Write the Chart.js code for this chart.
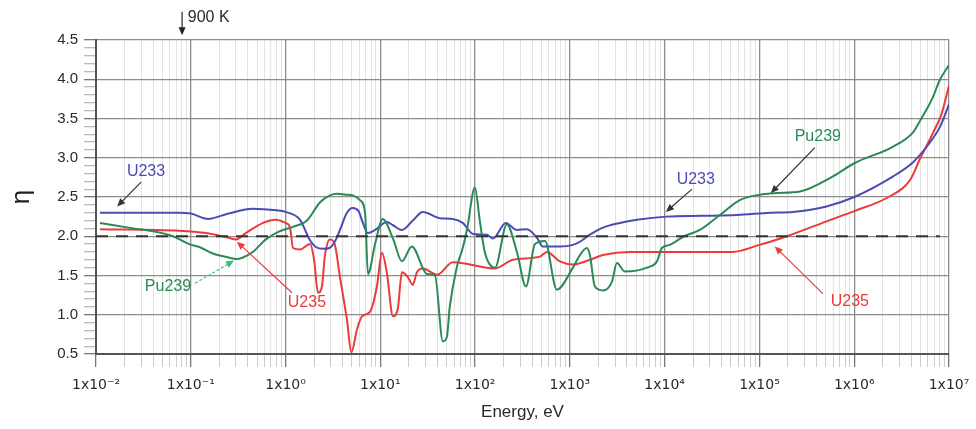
<!DOCTYPE html>
<html>
<head>
<meta charset="utf-8">
<script src="https://cdn.jsdelivr.net/npm/chart.js@4.4.1/dist/chart.umd.min.js"></script>
<style>
  html, body { margin: 0; padding: 0; background: #fff; }
  #wrap { width: 976px; height: 429px; }
</style>
</head>
<body>
<div id="wrap"><canvas id="eta-canvas"></canvas></div>
<script>
// Axis ticks
const decadeExponents = [-2, -1, 0, 1, 2, 3, 4, 5, 6, 7];
const energyTickLabels = ['1x10⁻²', '1x10⁻¹', '1x10⁰', '1x10¹', '1x10²', '1x10³', '1x10⁴', '1x10⁵', '1x10⁶', '1x10⁷'];
const etaLabelled = ['0.5', '1.0', '1.5', '2.0', '2.5', '3.0', '3.5', '4.0', '4.5'];

// U233
const u233Energy = [0.011, 0.03, 0.075, 0.1, 0.152, 0.25, 0.45, 0.8, 1.0, 1.42, 1.81, 2.1, 2.5, 2.9, 3.3, 3.75, 4.4, 5.1, 5.9, 6.5, 7.4, 8.8, 11.7, 13.6, 16.9, 22, 28, 42.6, 58, 74, 95, 133, 154, 211, 276, 352, 449, 519, 785, 1076, 1276, 1626, 2230, 3370, 5100, 1.05e4, 2.5e4, 5.8e4, 1.3e5, 2.25e5, 5.1e5, 1e6, 2.55e6, 4.15e6, 5.8e6, 8e6, 1e7];
const u233Eta    = [2.30, 2.30, 2.30, 2.29, 2.22, 2.29, 2.35, 2.33, 2.31, 2.21, 1.95, 1.86, 1.84, 1.85, 1.93, 2.08, 2.29, 2.36, 2.32, 2.18, 2.04, 2.08, 2.18, 2.14, 2.08, 2.20, 2.31, 2.23, 2.22, 2.17, 2.03, 2.02, 1.97, 2.17, 2.08, 2.09, 1.98, 1.87, 1.87, 1.89, 1.93, 2.02, 2.11, 2.17, 2.21, 2.25, 2.26, 2.27, 2.30, 2.31, 2.38, 2.50, 2.76, 2.94, 3.14, 3.39, 3.68];

// U235
const u235Energy = [0.011, 0.075, 0.145, 0.25, 0.30, 0.38, 0.58, 0.79, 1.0, 1.11, 1.2, 1.42, 1.81, 2.0, 2.2, 2.42, 2.6, 2.94, 3.3, 3.75, 4.44, 4.95, 5.66, 6.4, 7.8, 9.2, 10.4, 11.7, 13.6, 15.3, 16.9, 19.5, 22, 24.3, 28, 40, 58, 88, 162, 250, 483, 572, 785, 1076, 1626, 2230, 4300, 2.5e4, 5.2e4, 1e5, 1.3e5, 1.95e5, 5.1e5, 1e6, 2.3e6, 3.9e6, 5e6, 5.8e6, 6.8e6, 8.3e6, 1e7];
const u235Eta    = [2.09, 2.07, 2.04, 1.98, 1.96, 2.04, 2.17, 2.21, 2.17, 2.12, 1.85, 1.83, 1.90, 1.70, 1.28, 1.36, 1.75, 1.96, 1.90, 1.48, 0.94, 0.52, 0.81, 0.98, 1.04, 1.36, 1.79, 1.54, 0.98, 1.08, 1.54, 1.48, 1.38, 1.54, 1.59, 1.51, 1.67, 1.64, 1.59, 1.70, 1.74, 1.80, 1.68, 1.64, 1.70, 1.76, 1.80, 1.80, 1.80, 1.89, 1.93, 2.00, 2.19, 2.32, 2.50, 2.72, 3.00, 3.15, 3.32, 3.55, 3.92];

// Pu239
const pu239Energy = [0.011, 0.022, 0.05, 0.065, 0.096, 0.125, 0.171, 0.25, 0.30, 0.355, 0.45, 0.62, 0.85, 1.2, 1.68, 2.3, 2.94, 3.5, 4.4, 5.1, 6.1, 6.9, 7.4, 8.8, 10.6, 13.6, 16.9, 21.5, 31, 37.7, 45.7, 50.4, 54, 64, 74, 82, 99.5, 112, 127, 162, 216, 276, 344, 428, 545, 729, 1076, 1276, 1511, 1626, 1836, 2230, 2774, 3133, 3804, 6494, 8281, 9341, 1.13e4, 1.6e4, 2.35e4, 3.82e4, 6.2e4, 1.01e5, 1.5e5, 2.67e5, 5.9e5, 1e6, 2.55e6, 4.15e6, 5e6, 5.83e6, 6.75e6, 8e6, 1e7];
const pu239Eta    = [2.17, 2.11, 2.04, 2.00, 1.90, 1.86, 1.78, 1.73, 1.71, 1.73, 1.80, 1.96, 2.06, 2.12, 2.20, 2.43, 2.52, 2.54, 2.53, 2.52, 2.46, 2.30, 1.52, 1.90, 2.22, 1.97, 1.68, 1.87, 1.52, 1.50, 0.66, 0.72, 1.10, 1.60, 1.85, 2.08, 2.62, 2.20, 1.79, 1.60, 2.15, 1.80, 1.36, 1.90, 1.94, 1.32, 1.60, 1.76, 1.85, 1.76, 1.36, 1.31, 1.42, 1.66, 1.55, 1.60, 1.68, 1.85, 1.89, 2.00, 2.08, 2.27, 2.46, 2.53, 2.55, 2.57, 2.76, 2.93, 3.14, 3.32, 3.48, 3.62, 3.77, 3.99, 4.18];

// eta = 2 reference line
const refEnergy = [0.01, 8e6];
const refEta = [2.0, 2.0];

const COLORS = {
    u233: '#4a4cb4',
    u235: '#ec3a3c',
    pu239: '#2a8a57',
    text: '#2a2a2a',
    gridMajor: '#8c8c8c',
    gridMinor: '#e2e2e2',
    frame: '#555555',
};
const FONT = '"Liberation Sans", Arial, Helvetica, sans-serif';

// Callout labels and arrows, in data coordinates (energy, eta)
const callouts = [
    { text: '900 K', color: COLORS.text, at: [0.093, 4.79], align: 'left', from: [0.081, 4.86], to: [0.081, 4.56], arrowColor: '#222' },
    { text: 'U233', color: COLORS.u233, at: [0.0337, 2.82], from: [0.0299, 2.69], to: [0.0167, 2.38], arrowColor: '#333' },
    { text: 'Pu239', color: COLORS.pu239, at: [0.0575, 1.36], from: [0.111, 1.40], to: [0.286, 1.69], arrowColor: '#3fbf6f', dash: [3, 2] },
    { text: 'U235', color: COLORS.u235, at: [1.68, 1.15], from: [1.17, 1.28], to: [0.307, 1.93], arrowColor: COLORS.u235 },
    { text: 'U233', color: COLORS.u233, at: [2.13e4, 2.72], from: [1.94e4, 2.60], to: [1.03e4, 2.31], arrowColor: '#333' },
    { text: 'Pu239', color: COLORS.pu239, at: [4.13e5, 3.27], from: [3.84e5, 3.13], to: [1.32e5, 2.55], arrowColor: '#333' },
    { text: 'U235', color: COLORS.u235, at: [9.0e5, 1.17], from: [4.67e5, 1.27], to: [1.45e5, 1.87], arrowColor: COLORS.u235 },
];

function zipPoints(xs, ys) {
    return xs.map((x, i) => ({ x: x, y: ys[i] }));
}

function isDecade(v) {
    const l = Math.log10(v);
    return Math.abs(l - Math.round(l)) < 1e-6;
}

function drawArrow(ctx, a, b, color, dash) {
    const ang = Math.atan2(b[1] - a[1], b[0] - a[0]);
    const head = 8, half = 3.5;
    ctx.strokeStyle = color;
    ctx.fillStyle = color;
    ctx.lineWidth = 1.2;
    ctx.setLineDash(dash || []);
    ctx.beginPath();
    ctx.moveTo(a[0], a[1]);
    ctx.lineTo(b[0] - Math.cos(ang) * head * 0.8, b[1] - Math.sin(ang) * head * 0.8);
    ctx.stroke();
    ctx.setLineDash([]);
    ctx.beginPath();
    ctx.moveTo(b[0], b[1]);
    ctx.lineTo(b[0] - Math.cos(ang) * head - Math.sin(ang) * half, b[1] - Math.sin(ang) * head + Math.cos(ang) * half);
    ctx.lineTo(b[0] - Math.cos(ang) * head + Math.sin(ang) * half, b[1] - Math.sin(ang) * head - Math.cos(ang) * half);
    ctx.closePath();
    ctx.fill();
}

const calloutPlugin = {
    id: 'callouts',
    afterDatasetsDraw(chart) {
        const { ctx, scales: { x, y } } = chart;
        const toPx = p => [x.getPixelForValue(p[0]), y.getPixelForValue(p[1])];
        ctx.save();
        callouts.forEach(c => {
            if (c.from) drawArrow(ctx, toPx(c.from), toPx(c.to), c.arrowColor, c.dash);
            const t = toPx(c.at);
            ctx.font = '16px ' + FONT;
            ctx.fillStyle = c.color;
            ctx.textAlign = c.align || 'center';
            ctx.textBaseline = 'middle';
            ctx.fillText(c.text, t[0], t[1]);
        });
        ctx.restore();
    }
};

const whiteBg = {
    id: 'whiteBg',
    beforeDraw(chart) {
        const ctx = chart.ctx;
        ctx.save();
        ctx.fillStyle = '#fff';
        ctx.fillRect(0, 0, chart.width, chart.height);
        ctx.restore();
    }
};

const curveStyle = {
    borderWidth: 2,
    pointRadius: 0,
    fill: false,
    cubicInterpolationMode: 'monotone',
};

new Chart(document.getElementById('eta-canvas'), {
    type: 'line',
    data: {
        datasets: [
            { label: 'η = 2', data: zipPoints(refEnergy, refEta), borderColor: '#333', borderWidth: 2, borderDash: [12, 8], pointRadius: 0, fill: false, order: 0 },
            Object.assign({ label: 'U235', data: zipPoints(u235Energy, u235Eta), borderColor: COLORS.u235, order: 3 }, curveStyle),
            Object.assign({ label: 'U233', data: zipPoints(u233Energy, u233Eta), borderColor: COLORS.u233, order: 2 }, curveStyle),
            Object.assign({ label: 'Pu239', data: zipPoints(pu239Energy, pu239Eta), borderColor: COLORS.pu239, order: 1 }, curveStyle),
        ]
    },
    options: {
        responsive: true,
        maintainAspectRatio: false,
        animation: false,
        layout: { padding: { left: 0, right: 27, top: 40, bottom: 4 } },
        plugins: {
            legend: { display: false },
            tooltip: { enabled: false },
        },
        scales: {
            x: {
                type: 'logarithmic',
                min: 1e-2,
                max: 1e7,
                afterBuildTicks: scale => {
                    const ticks = [];
                    decadeExponents.forEach((e, i) => {
                        const steps = i === decadeExponents.length - 1 ? [1] : [1, 2, 3, 4, 5, 6, 7, 8, 9];
                        steps.forEach(m => ticks.push({ value: m * Math.pow(10, e) }));
                    });
                    scale.ticks = ticks;
                },
                afterFit: scale => {
                    scale.height = 71;
                    // keep the plot edge where the reference has it; labels may overhang
                    scale.paddingLeft = 0;
                    scale.paddingRight = 0;
                },
                grid: {
                    color: ctx => isDecade(ctx.tick.value) ? COLORS.gridMajor : COLORS.gridMinor,
                    lineWidth: ctx => isDecade(ctx.tick.value) ? 1.3 : 1,
                    tickColor: ctx => isDecade(ctx.tick.value) ? '#777' : '#ccc',
                    tickLength: 13,
                },
                border: { display: true, color: COLORS.frame, width: 2 },
                ticks: {
                    autoSkip: false,
                    maxRotation: 0,
                    padding: 10,
                    color: COLORS.text,
                    font: { size: 14, family: '"DejaVu Sans", ' + FONT },
                    callback: function (v) {
                        if (!isDecade(v)) return '';
                        const i = decadeExponents.indexOf(Math.round(Math.log10(v)));
                        return energyTickLabels[i];
                    }
                },
                title: {
                    display: true,
                    text: 'Energy, eV',
                    color: COLORS.text,
                    font: { size: 17, family: FONT },
                    padding: { top: 0, bottom: 2 },
                },
            },
            y: {
                type: 'linear',
                min: 0.5,
                max: 4.5,
                afterBuildTicks: scale => {
                    const ticks = [];
                    for (let k = 5; k <= 45; k++) ticks.push({ value: k / 10 });
                    scale.ticks = ticks;
                },
                afterFit: scale => { scale.width = 96; },
                grid: {
                    color: ctx => (Math.round(ctx.tick.value * 10) % 5 === 0) ? COLORS.gridMajor : 'rgba(0,0,0,0)',
                    lineWidth: 1.3,
                    tickColor: ctx => (Math.round(ctx.tick.value * 10) % 5 === 0) ? '#777' : '#bbb',
                    tickLength: 12,
                },
                border: { display: true, color: COLORS.frame, width: 2 },
                ticks: {
                    autoSkip: false,
                    padding: 6,
                    color: COLORS.text,
                    font: { size: 15, family: FONT },
                    callback: function (v) {
                        const k = Math.round(v * 10);
                        return k % 5 === 0 ? etaLabelled[(k - 5) / 5] : '';
                    }
                },
                title: {
                    display: true,
                    text: 'η',
                    color: '#222',
                    font: { size: 26, family: FONT },
                    padding: { top: 6, bottom: 0 },
                },
            }
        }
    },
    plugins: [whiteBg, calloutPlugin],
});
</script>
</body>
</html>
